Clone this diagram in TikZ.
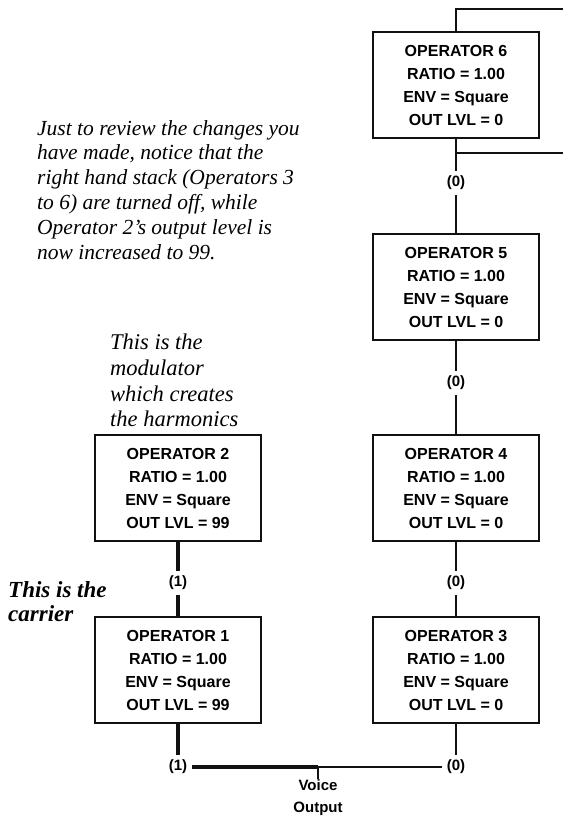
\documentclass[tikz,border=0pt]{standalone}
\usepackage{fontspec}
\setmainfont{Liberation Serif}
\setsansfont{Liberation Sans}
\usetikzlibrary{positioning}
\definecolor{ink}{HTML}{111111}

\begin{document}
\begin{tikzpicture}[
    x=1pt, y=1pt,
    opbox/.style={
      draw=ink,
      line width=1.4pt,
      minimum width=166pt,
      minimum height=106pt,
      inner sep=0pt,
      align=center,
      font=\sffamily\bfseries\fontsize{16}{23}\selectfont
    },
    lvl/.style={font=\sffamily\bfseries\fontsize{15}{17}\selectfont, inner sep=1pt, outer sep=4pt},
    link/.style={draw=ink, line width=1.6pt},
    hot/.style={draw=ink, line width=3.2pt},
    note/.style={font=\itshape\fontsize{21.5}{24.8}\selectfont, align=left, anchor=north west, inner sep=0pt}
  ]
  \useasboundingbox (0,0) rectangle (563,-825);

  % right hand stack
  \node[opbox] (op6) at (456,-85) {OPERATOR 6\\RATIO = 1.00\\ENV = Square\\OUT LVL = 0};
  \node[opbox] (op5) at (456,-287) {OPERATOR 5\\RATIO = 1.00\\ENV = Square\\OUT LVL = 0};
  \node[opbox] (op4) at (456,-488) {OPERATOR 4\\RATIO = 1.00\\ENV = Square\\OUT LVL = 0};
  \node[opbox] (op3) at (456,-670) {OPERATOR 3\\RATIO = 1.00\\ENV = Square\\OUT LVL = 0};
  % left hand stack
  \node[opbox] (op2) at (178,-488) {OPERATOR 2\\RATIO = 1.00\\ENV = Square\\OUT LVL = 99};
  \node[opbox] (op1) at (178,-670) {OPERATOR 1\\RATIO = 1.00\\ENV = Square\\OUT LVL = 99};

  \node[lvl] (l65) at (456,-183) {(0)};
  \node[lvl] (l54) at (456,-383) {(0)};
  \node[lvl] (l43) at (456,-583) {(0)};
  \node[lvl] (l21) at (178,-583) {(1)};
  \node[lvl] (out1) at (178,-767) {(1)};
  \node[lvl] (out3) at (456,-767) {(0)};
  \node[align=center, inner sep=0pt, font=\sffamily\bfseries\fontsize{15}{22}\selectfont] (voice) at (318,-798) {Voice\\Output};

  % feedback loop on operator 6
  \coordinate (fbtop) at (563,-9);
  \coordinate (fbbot) at (563,-153);
  \draw[link, line width=2.2pt] (op6.north) |- (fbtop);
  \draw[link, line width=2.2pt] (op6.south |- fbbot) -- (fbbot);

  \draw[link] (op6) -- (l65);
  \draw[link] (l65) -- (op5);
  \draw[link] (op5) -- (l54);
  \draw[link] (l54) -- (op4);
  \draw[link] (op4) -- (l43);
  \draw[link] (l43) -- (op3);
  \draw[link] (op3) -- (out3);
  \draw[hot] (op2) -- (l21);
  \draw[hot] (l21) -- (op1);
  \draw[hot] (op1) -- (out1);

  % mixing to the voice output
  \draw[hot] (out1) -- (voice.north |- out1);
  \draw[link] (voice.north |- out1) -- (out3);
  \draw[link] (voice.north |- out1) -- ([yshift=1pt]voice.north);

  \node[note] (review) at (37,-120) {Just to review the changes you\\have made, notice that the\\right hand stack (Operators 3\\to 6) are turned off, while\\Operator 2's output level is\\now increased to 99.};
  \node[note, font=\itshape\fontsize{22.5}{25.6}\selectfont] (modnote) at (110,-334) {This is the\\modulator\\which creates\\the harmonics};
  \node[note, font=\bfseries\itshape\fontsize{23}{24}\selectfont] (carnote) at (8,-581) {This is the\\carrier};
\end{tikzpicture}
\end{document}
